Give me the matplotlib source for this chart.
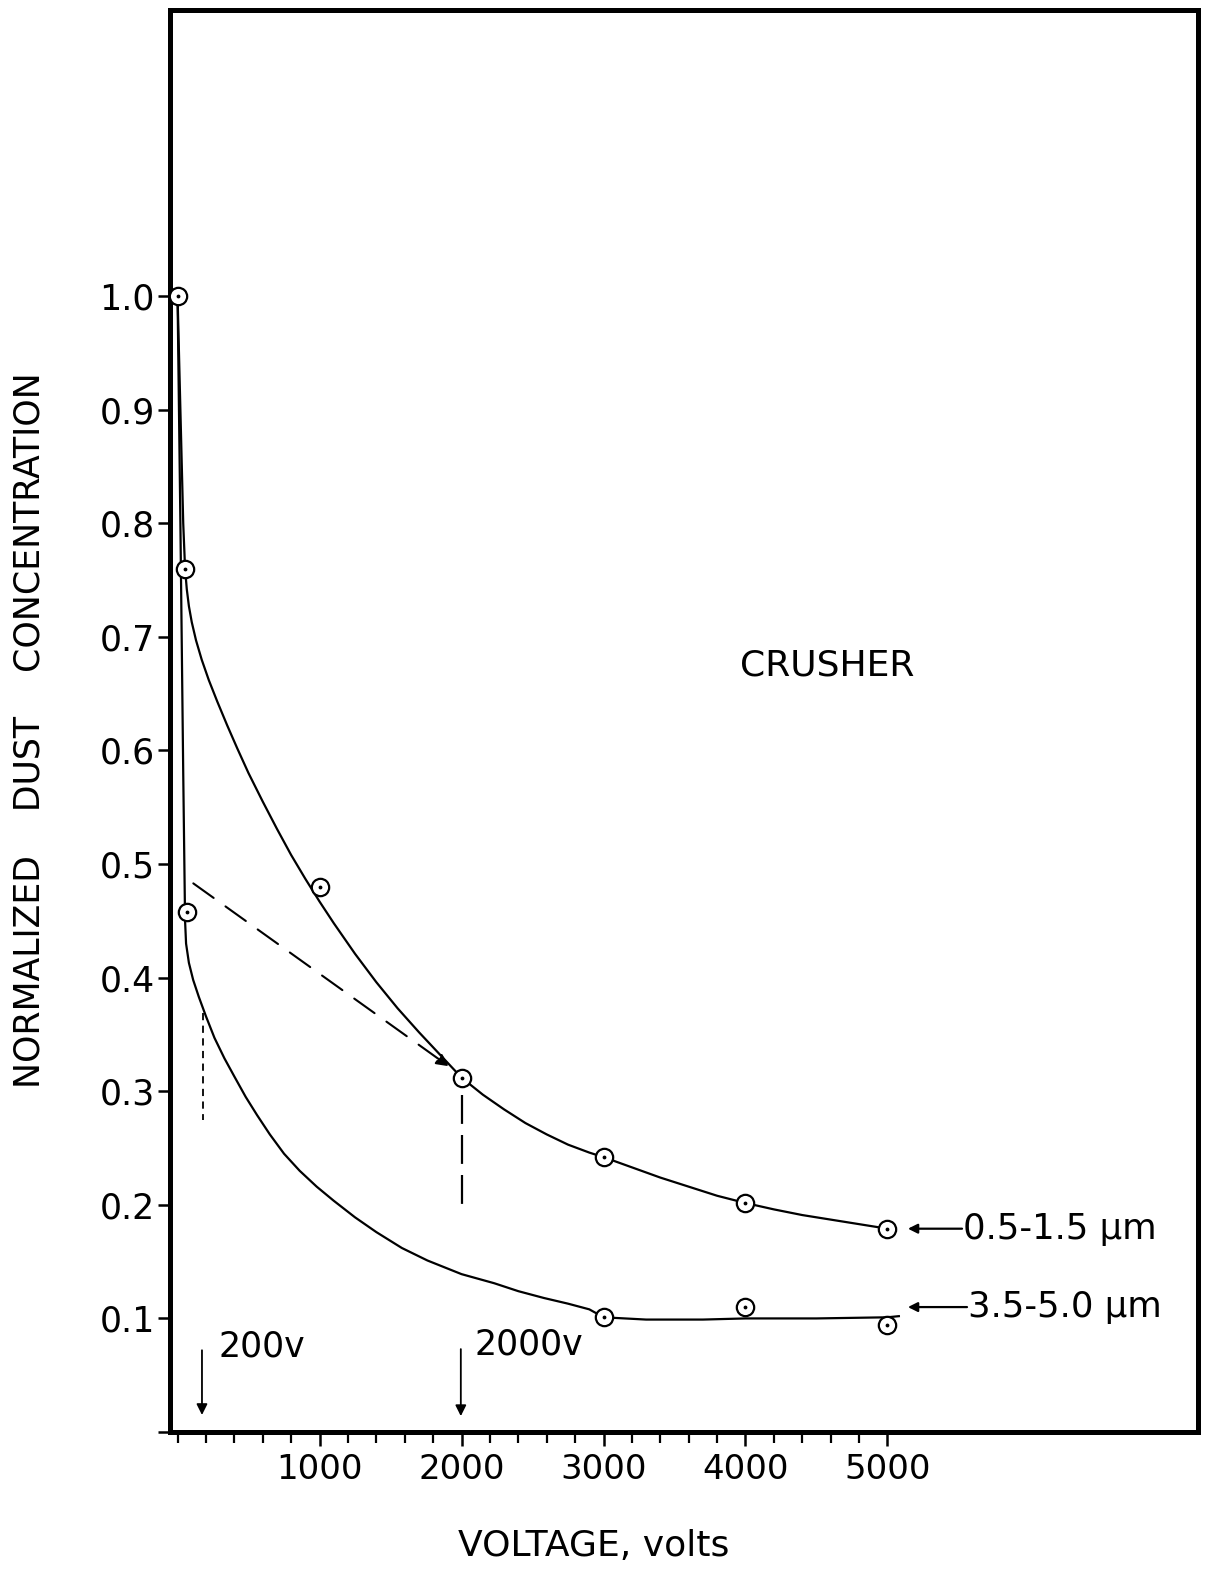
import matplotlib
matplotlib.use('Agg')
import matplotlib.pyplot as plt
from matplotlib.ticker import FixedLocator, NullFormatter

plt.rcParams['font.family'] = ['DejaVu Sans']

# ---- measured data points (voltage, normalized dust concentration) ----
v_fine = [0, 53, 1000, 2000, 3000, 4000, 5000]
c_fine = [1.00, 0.760, 0.480, 0.312, 0.242, 0.202, 0.179]
v_coarse = [65, 3000, 4000, 5000]
c_coarse = [0.458, 0.101, 0.110, 0.094]

# ---- hand-drawn curves ----
fine_curve_v = [0, 10, 20, 30, 40, 53, 65, 80, 100, 130, 170, 220, 280, 350, 420, 500,
                600, 700, 800, 900, 1000, 1100, 1250, 1400, 1550, 1700, 1850, 2000,
                2150, 2300, 2450, 2600, 2750, 2900, 3000, 3200, 3400, 3600, 3800, 4000,
                4200, 4400, 4600, 4800, 5000]
fine_curve_c = [1.0, 0.95, 0.90, 0.85, 0.80, 0.76, 0.742, 0.727, 0.713, 0.697, 0.680,
                0.662, 0.643, 0.622, 0.602, 0.580, 0.555, 0.531, 0.508, 0.487, 0.467,
                0.448, 0.421, 0.396, 0.373, 0.352, 0.332, 0.312, 0.297, 0.284, 0.272,
                0.262, 0.253, 0.246, 0.242, 0.233, 0.224, 0.216, 0.208, 0.2016, 0.196,
                0.191, 0.187, 0.183, 0.179]
coarse_curve_v = [0, 10, 20, 30, 40, 48, 53, 60, 80, 110, 150, 200, 260, 330, 400, 480,
                  560, 650, 750, 860, 980, 1100, 1250, 1400, 1580, 1760, 2000, 2230,
                  2400, 2580, 2750, 2900, 3000, 3300, 3700, 4000, 4500, 5000, 5080]
coarse_curve_c = [1.0, 0.90, 0.80, 0.69, 0.58, 0.50, 0.45, 0.43, 0.413, 0.398, 0.383,
                  0.366, 0.347, 0.329, 0.313, 0.295, 0.279, 0.262, 0.245, 0.230, 0.216,
                  0.2036, 0.189, 0.176, 0.162, 0.151, 0.139, 0.131, 0.124, 0.118, 0.113,
                  0.108, 0.101, 0.099, 0.099, 0.100, 0.100, 0.101, 0.102]

# ---- annotation values ----
transfer_from = (111, 0.483)
transfer_to = (1910, 0.322)
guide_200_v, guide_200_c = [182, 182], [0.369, 0.275]
guide_2000_v, guide_2000_c = [2000, 2000], [0.297, 0.199]
marker_200 = (172, 0.072, 0.015)
marker_2000 = (1995, 0.073, 0.014)

y_ticks = [0.1, 0.2, 0.3, 0.4, 0.5, 0.6, 0.7, 0.8, 0.9, 1.0]
y_labels = ['0.1', '0.2', '0.3', '0.4', '0.5', '0.6', '0.7', '0.8', '0.9', '1.0']
x_major = [1000, 2000, 3000, 4000, 5000]
x_minor = [v for v in range(0, 5001, 200) if v % 1000 != 0] + [0]

fig = plt.figure(figsize=(12.05, 15.74), dpi=100)
ax = fig.add_axes([0.1411, 0.0902, 0.8531, 0.9034])
ax.set_xlim(-53, 7187)
ax.set_ylim(0, 1.2518)

for s in ax.spines.values():
    s.set_linewidth(3.6)

ax.plot(fine_curve_v, fine_curve_c, color='black', lw=1.6, zorder=2,
        solid_joinstyle='round')
ax.plot(coarse_curve_v, coarse_curve_c, color='black', lw=1.6, zorder=2,
        solid_joinstyle='round')

for v, c in ((v_fine, c_fine), (v_coarse, c_coarse)):
    ax.plot(v, c, 'o', ms=12.5, mfc='white', mec='black', mew=1.6, zorder=3)
    ax.plot(v, c, '.', ms=3.5, color='black', zorder=4)

# dashed transfer arrow
ax.annotate('', xy=transfer_to, xytext=transfer_from,
            arrowprops=dict(arrowstyle='-|>', color='black', lw=1.5,
                            linestyle=(0, (12, 7)), mutation_scale=18,
                            shrinkA=0, shrinkB=0))
ax.plot(guide_200_v, guide_200_c, color='black', lw=1.3, linestyle=(0, (4, 3)))
ax.plot(guide_2000_v, guide_2000_c, color='black', lw=1.6, linestyle=(0, (13, 5)))

for xv, y0, y1 in (marker_200, marker_2000):
    ax.annotate('', xy=(xv, y1), xytext=(xv, y0),
                arrowprops=dict(arrowstyle='-|>', color='black', lw=1.3,
                                mutation_scale=16, shrinkA=0, shrinkB=0))
ax.text(290, 0.075, '200v', fontsize=25, ha='left', va='center')
ax.text(2090, 0.077, '2000v', fontsize=25, ha='left', va='center')

ax.text(4574, 0.675, 'CRUSHER', fontsize=26, ha='center', va='center')

# series labels with arrows
for yv, lab, x0 in ((0.179, '0.5-1.5 μm', 5525), (0.110, '3.5-5.0 μm', 5560)):
    ax.annotate('', xy=(5144, yv), xytext=(x0, yv),
                arrowprops=dict(arrowstyle='-|>', color='black', lw=1.6,
                                mutation_scale=14, shrinkA=0, shrinkB=0))
    ax.text(x0 + 10, yv, lab, fontsize=25.5, ha='left', va='center')

ax.yaxis.set_major_locator(FixedLocator([0] + y_ticks))
ax.set_yticklabels([''] + y_labels)
ax.xaxis.set_major_locator(FixedLocator(x_major))
ax.set_xticklabels([str(v) for v in x_major])
ax.xaxis.set_minor_locator(FixedLocator(x_minor))
ax.xaxis.set_minor_formatter(NullFormatter())
ax.tick_params(axis='y', direction='out', length=9, width=1.8, labelsize=25, pad=2)
ax.tick_params(axis='x', which='major', direction='out', length=10, width=1.8,
               labelsize=24.5, pad=5)
ax.tick_params(axis='x', which='minor', direction='out', length=8, width=1.6)

fig.text(30 / 1205, 1 - 730 / 1574, 'NORMALIZED    DUST    CONCENTRATION',
         rotation=90, ha='center', va='center', fontsize=25)
fig.text(594 / 1205, 1 - 1546 / 1574, 'VOLTAGE, volts', ha='center', va='center',
         fontsize=26)

fig.savefig('out.png', dpi=100, facecolor='white')
